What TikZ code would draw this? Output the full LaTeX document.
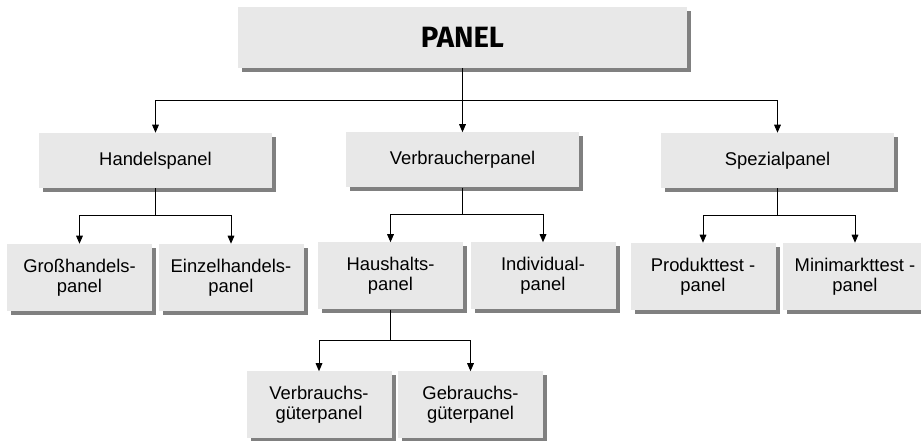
\documentclass[tikz,border=0pt]{standalone}
\usepackage{fontspec}
\setmainfont{Liberation Sans}
\newfontfamily\titlefont{Fira Sans}
\usetikzlibrary{arrows.meta,shadows}
\definecolor{boxGray}{RGB}{232, 232, 232}
\definecolor{shadowGray}{RGB}{128, 128, 128}

\begin{document}
\begin{tikzpicture}[x=0.75pt,y=-0.75pt,
    box/.style={fill=boxGray, inner sep=0pt, align=center,
      font=\fontsize{13.8}{15.2}\selectfont,
      drop shadow={shadow xshift=3pt, shadow yshift=-3pt, fill=shadowGray, opacity=1}},
    topbox/.style={box, minimum width=336.75pt, minimum height=45.75pt,
      font=\titlefont\bfseries\fontsize{22}{24}\selectfont},
    midbox/.style={box, minimum width=174.75pt, minimum height=41.25pt},
    leafbox/.style={box, minimum width=108.75pt, minimum height=50.25pt},
    link/.style={line width=0.75pt, -{Triangle[width=5pt,length=6pt]}}]
        \useasboundingbox (0,0) rectangle (921,441);
        % Stufe 0
        \node[topbox] (panel) at (462.5,37.5) {PANEL};
        % Stufe 1
        \node[midbox] (handel) at (155.5,160.5) {Handelspanel};
        \node[midbox] (verbr) at (462.5,160) {Verbraucherpanel};
        \node[midbox] (spez) at (777.5,160.5) {Spezialpanel};
        % Stufe 2
        \node[leafbox] (gross) at (79.5,277.5) {Gro\ss handels-\\panel};
        \node[leafbox] (einzel) at (231,277.5) {Einzelhandels-\\panel};
        \node[leafbox] (haus) at (390.5,276) {Haushalts-\\panel};
        \node[leafbox] (indiv) at (543,276) {Individual-\\panel};
        \node[leafbox] (prod) at (703,276.5) {Produkttest -\\panel};
        \node[leafbox] (mini) at (855,276.5) {Minimarkttest -\\panel};
        % Stufe 3
        \node[leafbox] (verbrg) at (319,405) {Verbrauchs-\\g\"uterpanel};
        \node[leafbox] (gebrg) at (470.5,405) {Gebrauchs-\\g\"uterpanel};
        % Verbindungen
        \draw[link] (panel.south) -- ++(0,32) -| (handel.north);
        \draw[link] (panel.south) -- (verbr.north);
        \draw[link] (panel.south) -- ++(0,32) -| (spez.north);
        \draw[link] (handel.south) -- ++(0,27) -| (gross.north);
        \draw[link] (handel.south) -- ++(0,27) -| (einzel.north);
        \draw[link] (verbr.south) -- ++(0,27) -| (haus.north);
        \draw[link] (verbr.south) -- ++(0,27) -| (indiv.north);
        \draw[link] (spez.south) -- ++(0,27) -| (prod.north);
        \draw[link] (spez.south) -- ++(0,27) -| (mini.north);
        \draw[link] (haus.south) -- ++(0,31) -| (verbrg.north);
        \draw[link] (haus.south) -- ++(0,31) -| (gebrg.north);
\end{tikzpicture}
\end{document}
